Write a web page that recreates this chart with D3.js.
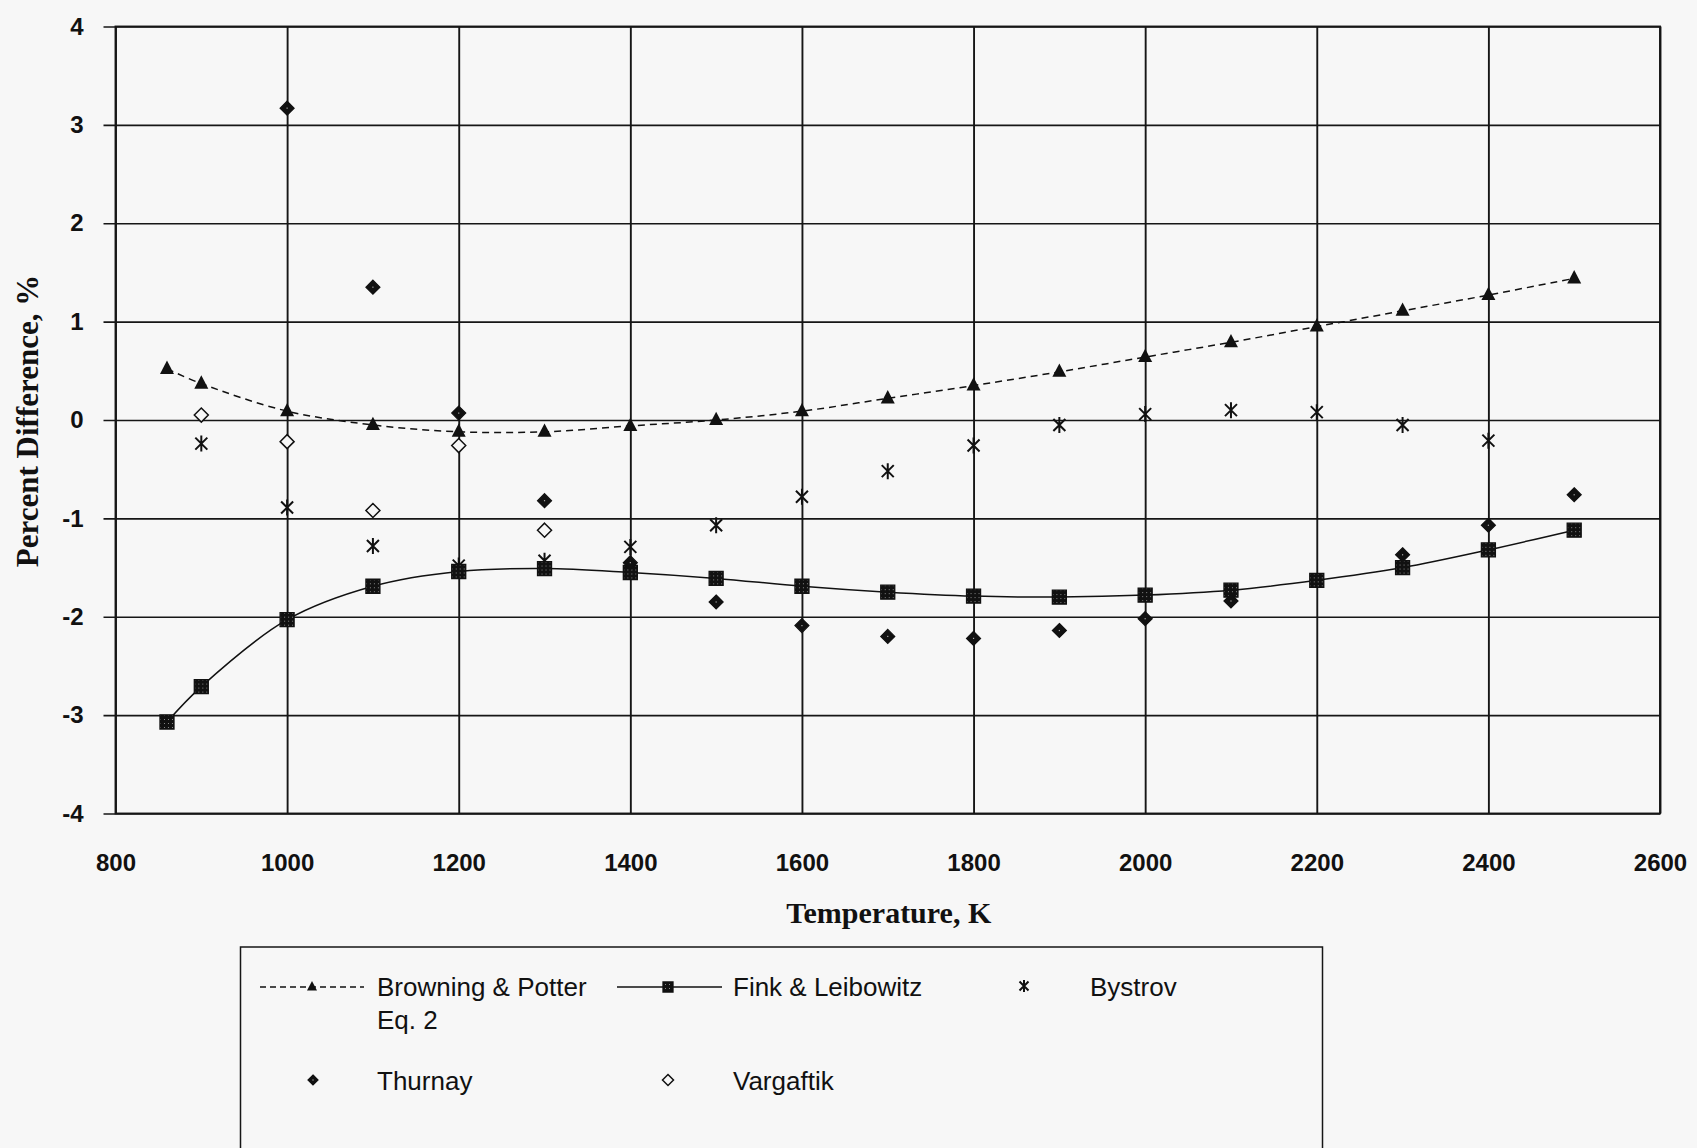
<!DOCTYPE html>
<html><head><meta charset="utf-8">
<script src="https://cdn.jsdelivr.net/npm/d3@7"></script>
<style>body{margin:0;background:#f7f7f7}</style>
</head><body><svg id="c" width="1697" height="1148"></svg>
<script>
// ---- data ----
const lineTemps = [860,900,1000,1100,1200,1300,1400,1500,1600,1700,1800,1900,2000,2100,2200,2300,2400,2500];
const browning  = [0.52,0.37,0.09,-0.05,-0.12,-0.12,-0.06,0.0,0.09,0.22,0.35,0.49,0.64,0.79,0.95,1.11,1.27,1.44];
const fink      = [-3.07,-2.71,-2.03,-1.69,-1.54,-1.51,-1.55,-1.61,-1.69,-1.75,-1.79,-1.80,-1.78,-1.73,-1.63,-1.50,-1.32,-1.12];
const bystrovT  = [900,1000,1100,1200,1300,1400,1500,1600,1700,1800,1900,2000,2100,2200,2300,2400];
const bystrov   = [-0.24,-0.89,-1.28,-1.48,-1.43,-1.29,-1.07,-0.78,-0.52,-0.26,-0.05,0.06,0.10,0.08,-0.05,-0.21];
const thurnayT  = [1000,1100,1200,1300,1400,1500,1600,1700,1800,1900,2000,2100,2300,2400,2500];
const thurnay   = [3.17,1.35,0.07,-0.82,-1.45,-1.85,-2.09,-2.20,-2.22,-2.14,-2.02,-1.84,-1.37,-1.07,-0.76];
const vargaftikT = [900,1000,1100,1200,1300];
const vargaftik  = [0.05,-0.22,-0.92,-0.26,-1.12];
const xTicks = [800,1000,1200,1400,1600,1800,2000,2200,2400,2600];
const yTicks = [-4,-3,-2,-1,0,1,2,3,4];
const seriesNames = ["Browning & Potter", "Eq. 2", "Fink & Leibowitz", "Bystrov", "Thurnay", "Vargaftik"];

const svg = d3.select("#c");
svg.append("rect").attr("width",1697).attr("height",1148).attr("fill","#f7f7f7");

const defs = svg.append("defs");
const pat = defs.append("pattern").attr("id","dots").attr("patternUnits","userSpaceOnUse")
  .attr("width",4).attr("height",4);
pat.append("rect").attr("width",4).attr("height",4).attr("fill","#111");
pat.append("rect").attr("x",1).attr("y",1).attr("width",1).attr("height",1).attr("fill","#888");

const X0 = 115.5, X1 = 1660, Y0 = 813.5, Y1 = 26.5;
const x = d3.scaleLinear().domain([800,2600]).range([X0,X1]);
const y = d3.scaleLinear().domain([-4,4]).range([Y0,Y1]);
const ink = "#161616";

// Y axis + horizontal grid
const gy = svg.append("g").attr("transform",`translate(${X0},0)`)
  .call(d3.axisLeft(y).tickValues(yTicks).tickSize(-(X1-X0)).tickPadding(32).tickFormat(d=>String(d)));
gy.select(".domain").remove();
gy.selectAll(".tick line").attr("x1",-12).attr("stroke",ink).attr("stroke-width",1.7);
gy.selectAll(".tick text").attr("font-family","'Liberation Sans',Arial,sans-serif")
  .attr("font-weight","bold").attr("font-size",24).attr("fill","#111");

// X axis + vertical grid
const gx = svg.append("g").attr("transform",`translate(0,${Y0})`)
  .call(d3.axisBottom(x).tickValues(xTicks).tickSize(-(Y0-Y1)).tickPadding(40).tickFormat(d=>String(d)));
gx.select(".domain").remove();
gx.selectAll(".tick line").attr("stroke",ink).attr("stroke-width",1.9);
gx.selectAll(".tick text").attr("font-family","'Liberation Sans',Arial,sans-serif")
  .attr("font-weight","bold").attr("font-size",24).attr("fill","#111");

// plot border
svg.append("rect").attr("x",X0).attr("y",Y1).attr("width",X1-X0).attr("height",Y0-Y1)
  .attr("fill","none").attr("stroke",ink).attr("stroke-width",1.9);

// titles
svg.append("text").attr("x",(X0+X1)/2+1).attr("y",923).attr("text-anchor","middle")
  .attr("font-family","'Liberation Serif','Times New Roman',serif").attr("font-weight","bold")
  .attr("font-size",30).attr("fill","#111").text("Temperature, K");
svg.append("text").attr("transform","translate(38,421) rotate(-90)").attr("text-anchor","middle")
  .attr("font-family","'Liberation Serif','Times New Roman',serif").attr("font-weight","bold")
  .attr("font-size",31).attr("fill","#111").text("Percent Difference, %");

// marker shapes
function tri(s){ const h=s*0.95; return `M0,${-h*0.62}L${s/2},${h*0.38}L${-s/2},${h*0.38}Z`; }
function sq(s){ return `M${-s/2},${-s/2}h${s}v${s}h${-s}Z`; }
function dia(s){ return `M0,${-s/2}L${s/2},0L0,${s/2}L${-s/2},0Z`; }
function star(s){ const r=s/2, d=r*0.75; return `M${-d},${-d}L${d},${d}M${d},${-d}L${-d},${d}M0,${-r}L0,${r}`; }

function drawTri(g,px,py,s){ g.append("path").attr("transform",`translate(${px},${py})`).attr("d",tri(s)).attr("fill","#111"); }
function drawSq(g,px,py,s){ g.append("path").attr("transform",`translate(${px},${py})`).attr("d",sq(s)).attr("fill","url(#dots)").attr("stroke","#111").attr("stroke-width",1.3); }
function drawThur(g,px,py,s){ const t=g.append("g").attr("transform",`translate(${px},${py})`);
  t.append("path").attr("d",dia(s)).attr("fill","#111").attr("stroke","#111").attr("stroke-width",1.2);
  t.append("rect").attr("x",-0.6).attr("y",-0.6).attr("width",1.2).attr("height",1.2).attr("fill","#aaa"); }
function drawVarg(g,px,py,s){ g.append("path").attr("transform",`translate(${px},${py})`).attr("d",dia(s)).attr("fill","#f7f7f7").attr("stroke","#111").attr("stroke-width",1.5); }
function drawStar(g,px,py,s){ g.append("path").attr("transform",`translate(${px},${py})`).attr("d",star(s)).attr("fill","none").attr("stroke","#111").attr("stroke-width",2); }

const plot = svg.append("g");
const curve = d3.curveCatmullRom.alpha(0.5);
const line = d3.line().x(d=>x(d[0])).y(d=>y(d[1])).curve(curve);

plot.append("path").attr("d",line(lineTemps.map((t,i)=>[t,browning[i]])))
  .attr("fill","none").attr("stroke","#111").attr("stroke-width",1.5).attr("stroke-dasharray","7,5");
plot.append("path").attr("d",line(lineTemps.map((t,i)=>[t,fink[i]])))
  .attr("fill","none").attr("stroke","#111").attr("stroke-width",1.5);

vargaftikT.forEach((t,i)=>drawVarg(plot,x(t),y(vargaftik[i]),14));
bystrovT.forEach((t,i)=>drawStar(plot,x(t),y(bystrov[i]),16));
lineTemps.forEach((t,i)=>drawSq(plot,x(t),y(fink[i]),14));
thurnayT.forEach((t,i)=>drawThur(plot,x(t),y(thurnay[i]),14));
lineTemps.forEach((t,i)=>drawTri(plot,x(t),y(browning[i]),14));

// legend
const lg = svg.append("g");
lg.append("rect").attr("x",240.5).attr("y",947).attr("width",1082).attr("height",240)
  .attr("fill","#f7f7f7").attr("stroke",ink).attr("stroke-width",1.5);
const lf = {"font-family":"'Liberation Sans',Arial,sans-serif","font-size":26,"fill":"#111"};
function ltext(tx,ty,s){ const t=lg.append("text").attr("x",tx).attr("y",ty).text(s); Object.entries(lf).forEach(([k,v])=>t.attr(k,v)); }
lg.append("line").attr("x1",260).attr("x2",364).attr("y1",987).attr("y2",987).attr("stroke","#111").attr("stroke-width",1.3).attr("stroke-dasharray","6,4");
drawTri(lg,312,987,10);
ltext(377,996,seriesNames[0]); ltext(377,1029,seriesNames[1]);
lg.append("line").attr("x1",617).attr("x2",722).attr("y1",987).attr("y2",987).attr("stroke","#111").attr("stroke-width",1.3);
drawSq(lg,668,987,10);
ltext(733,996,seriesNames[2]);
drawStar(lg,1024,986,12);
ltext(1090,996,seriesNames[3]);
drawThur(lg,313,1080,10);
ltext(377,1090,seriesNames[4]);
drawVarg(lg,668,1080,11);
ltext(733,1090,seriesNames[5]);
</script></body></html>
